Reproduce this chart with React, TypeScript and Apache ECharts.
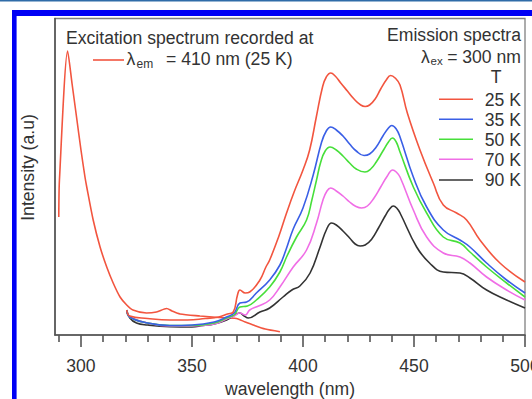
import React, { useEffect, useRef } from 'react';
import * as echarts from 'echarts';

// ---- data (wavelength in nm, intensity in arbitrary units) ----
const exWl = [290, 290.3, 294, 296, 298, 300, 301.8, 302.6, 305.5, 308.6, 311.6, 314.5, 317.6, 320.6, 323.4, 329.5, 334, 338.6, 341, 344.6, 353.6, 362, 370, 374, 377.6, 383, 389.6];
const exInt = [118, 155, 284, 251, 218, 185, 158, 148, 115, 88, 68, 52, 38, 30, 25, 22, 23, 26.5, 24, 21, 19, 17.5, 16.5, 13, 10, 6, 3.3];

const k25Wl = [320.6, 322, 330, 340, 348, 356, 362, 366, 368.6, 370.5, 371.6, 374, 376, 380.6, 383.3, 385, 389, 392.6, 396, 400, 403, 406, 408.8, 410.5, 412.5, 414.5, 417, 420, 423, 426, 428, 430, 432.5, 435, 437.5, 439.5, 441.5, 443.7, 447, 452.7, 458.7, 463.2, 469.2, 473.7, 479.7, 488.7, 500];
const k25Int = [25, 19, 16.5, 15, 15, 16.5, 18, 21, 23, 40, 45, 42, 43, 55, 68, 75, 98, 122, 143, 165, 185, 218, 248, 258, 262, 259, 252, 244, 236, 230, 228.5, 230, 236, 246, 255, 259.5, 257, 250, 222, 185, 152, 130, 122, 115, 95, 72, 53];

const k35Wl = [320.6, 322, 330, 340, 350, 360, 365.6, 369, 371.6, 374.6, 379, 385, 389.6, 392.3, 395.6, 400, 404.6, 408.4, 410.5, 412.5, 415, 418, 421, 424, 427.5, 430, 433, 436, 438.5, 440, 442, 443.7, 449.7, 455.7, 463.2, 470.7, 475.2, 482.7, 491.7, 500];
const k35Int = [25, 18, 12, 9.5, 10, 13, 18, 22, 32, 33, 42, 55, 70, 85, 106, 127, 160, 193, 204, 208, 205, 199, 191, 184, 179.5, 181, 188, 199, 207, 209.5, 206, 198, 158, 128, 105, 95, 88, 72, 55, 42];

const k50Wl = [320.6, 322, 330, 340, 350, 360, 365.6, 369, 371.6, 375, 379, 385, 389.6, 393, 397.1, 401.6, 404, 406.1, 408, 410, 412.2, 415, 418, 421, 424, 427.9, 430.5, 433, 436, 438.5, 440.3, 442, 443.7, 449.7, 455.7, 463.2, 470.7, 475.2, 482.7, 491.7, 500];
const k50Int = [25, 18, 12, 9.5, 9.5, 12, 17, 20, 28, 29, 35, 48, 63, 80, 98, 115, 135, 155, 173, 184, 188, 185, 179, 172, 166, 163, 166, 173, 184, 193, 197, 193, 183, 148, 122, 98, 92, 83, 68, 52, 38];

const k70Wl = [320.6, 322, 330, 340, 350, 360, 365.6, 369, 371.6, 374, 376, 380, 385, 389.6, 395.6, 401.6, 406.1, 409, 410.8, 412.5, 415, 418, 421, 423.5, 426.4, 429, 432, 435, 438, 440.4, 442, 443.7, 449.7, 455.7, 463.2, 470.7, 475.2, 482.7, 491.7, 500];
const k70Int = [25, 18, 12, 9, 9, 11, 16, 19, 22, 20, 25, 29, 35, 48, 68, 85, 112, 135, 144, 147, 144, 139, 133, 129, 127, 129, 137, 148, 159, 165, 163, 158, 125, 98, 82, 78, 72, 58, 45, 35];

const k90Wl = [320.6, 322, 325, 330, 340, 350, 355, 360, 365.6, 368.6, 371.5, 373.5, 375.4, 380.6, 385, 391, 395, 398.6, 403.2, 407.7, 410.7, 412.9, 415, 418, 421, 423.5, 425.7, 428, 431, 434, 437, 439, 440.7, 442.2, 443.7, 451.2, 457, 463.2, 470.7, 475.2, 482.7, 491.7, 500];
const k90Int = [25, 17, 12, 10, 8.3, 8, 9.5, 11, 15, 19, 22, 19, 17, 23, 27, 38, 45, 49, 62, 88, 106, 112, 110, 104, 97, 91, 89, 90, 96, 107, 119, 126, 129, 127, 122, 88, 72, 63, 62, 57, 45, 35, 27];

const tempLabels = ['25 K', '35 K', '50 K', '70 K', '90 K'];
const majorTicks = [300, 350, 400, 450, 500];
const minorTicks = [290, 310, 320, 330, 340, 360, 370, 380, 390, 410, 420, 430, 440, 460, 470, 480, 490];

const X_MIN = 288.3;
const X_MAX = 500;
const Y_MAX = 316.5;

const FONT = '"Liberation Sans", Arial, Helvetica, sans-serif';
const FS = 17.6;
const TXT = '#333333';
const COLORS = ['#f2553f', '#3a5fe6', '#47df3a', '#f06ee6', '#333333'];

const zip = (a: number[], b: number[]) => a.map((v, i) => [v, b[i]]);

export default function App() {
  const ref = useRef<HTMLDivElement>(null);

  useEffect(() => {
    const chart = echarts.init(ref.current!, null, { renderer: 'svg' });

    const emission = [
      { name: tempLabels[0], d: zip(k25Wl, k25Int) },
      { name: tempLabels[1], d: zip(k35Wl, k35Int) },
      { name: tempLabels[2], d: zip(k50Wl, k50Int) },
      { name: tempLabels[3], d: zip(k70Wl, k70Int) },
      { name: tempLabels[4], d: zip(k90Wl, k90Int) },
    ];

    const lineSeries = (name: string, data: number[][], color: string, z: number, smooth: number) => ({
      name,
      type: 'line',
      data,
      xAxisIndex: 0,
      yAxisIndex: 0,
      showSymbol: false,
      symbol: 'none',
      smooth,
      lineStyle: { color, width: 1.6 },
      z,
      silent: true,
    });

    const series: any[] = [
      lineSeries('Excitation', zip(exWl, exInt), COLORS[0], 3, 0.25),
      ...emission.map((e, i) => lineSeries(e.name, e.d, COLORS[i], 3 + (5 - i), 0.45)).reverse(),
    ];

    const textStyle = (extra: any) => ({ fontFamily: FONT, fontSize: FS, fill: TXT, ...extra });

    const legendY = [99.3, 119.3, 139.3, 159.3, 180];
    const graphic: any[] = [
      // page frame
      { type: 'rect', shape: { x: 0, y: 0, width: 532, height: 1.6 }, style: { fill: '#2f6ca8' }, silent: true },
      { type: 'rect', shape: { x: 12, y: 10, width: 520, height: 6 }, style: { fill: '#0000f5' }, silent: true },
      { type: 'rect', shape: { x: 12, y: 10, width: 4.6, height: 389 }, style: { fill: '#0000f5' }, silent: true },
      // y axis name
      { type: 'text', x: 28, y: 167.5, rotation: Math.PI / 2, style: textStyle({ text: 'Intensity (a.u)', align: 'center', verticalAlign: 'middle' }) },
      // excitation legend
      { type: 'text', x: 66, y: 37.8, style: textStyle({ text: 'Excitation spectrum recorded at', align: 'left', verticalAlign: 'middle' }) },
      { type: 'line', shape: { x1: 93, y1: 60, x2: 124, y2: 60 }, style: { stroke: COLORS[0], lineWidth: 1.6 } },
      { type: 'text', x: 126.5, y: 59.1, style: textStyle({ text: 'λ', align: 'left', verticalAlign: 'middle' }) },
      { type: 'text', x: 136.5, y: 64.3, style: textStyle({ text: 'em', fontSize: 12, align: 'left', verticalAlign: 'middle' }) },
      { type: 'text', x: 166, y: 59.1, style: textStyle({ text: '= 410 nm (25 K)', align: 'left', verticalAlign: 'middle' }) },
      // emission legend
      { type: 'text', x: 521, y: 35.2, style: textStyle({ text: 'Emission spectra', align: 'right', verticalAlign: 'middle' }) },
      { type: 'text', x: 421, y: 57.4, style: textStyle({ text: 'λ', align: 'left', verticalAlign: 'middle' }) },
      { type: 'text', x: 430.5, y: 61, style: textStyle({ text: 'ex', fontSize: 11.5, align: 'left', verticalAlign: 'middle' }) },
      { type: 'text', x: 521, y: 57.4, style: textStyle({ text: '= 300 nm', align: 'right', verticalAlign: 'middle' }) },
      { type: 'text', x: 496, y: 77.4, style: textStyle({ text: 'T', align: 'center', verticalAlign: 'middle' }) },
      ...tempLabels.flatMap((t, i) => [
        { type: 'line', shape: { x1: 439, y1: legendY[i], x2: 473, y2: legendY[i] }, style: { stroke: COLORS[i], lineWidth: 1.6 } },
        { type: 'text', x: 521, y: legendY[i] + 0.2, style: textStyle({ text: t, align: 'right', verticalAlign: 'middle' }) },
      ]),
    ];

    const axisLineStyle = { color: '#555555', width: 1.6 };

    chart.setOption({
      animation: false,
      backgroundColor: '#ffffff',
      grid: {
        left: 55,
        right: 7,
        top: 18.5,
        bottom: 64,
        outerBoundsMode: 'none',
        containLabel: false,
        show: true,
        borderColor: '#808080',
        borderWidth: 1.3,
        backgroundColor: 'transparent',
      },
      xAxis: [
        {
          type: 'value',
          min: X_MIN,
          max: X_MAX,
          position: 'bottom',
          axisLine: { show: true, onZero: false, lineStyle: axisLineStyle },
          axisTick: { show: true, customValues: majorTicks, length: 12, lineStyle: axisLineStyle },
          axisLabel: { show: true, customValues: majorTicks, margin: 22, fontSize: FS, color: TXT, fontFamily: FONT },
          splitLine: { show: false },
          name: 'wavelength (nm)',
          nameLocation: 'middle',
          nameGap: 44,
          nameTextStyle: { fontSize: FS, color: TXT, fontFamily: FONT },
        },
        {
          type: 'value',
          min: X_MIN,
          max: X_MAX,
          position: 'bottom',
          axisLine: { show: false },
          axisTick: { show: true, customValues: minorTicks, length: 7, lineStyle: axisLineStyle },
          axisLabel: { show: false },
          splitLine: { show: false },
        },
      ],
      yAxis: {
        type: 'value',
        min: 0,
        max: Y_MAX,
        axisLine: { show: true, onZero: false, lineStyle: axisLineStyle },
        axisTick: { show: false },
        axisLabel: { show: false },
        splitLine: { show: false },
      },
      series,
      graphic,
    });

    return () => chart.dispose();
  }, []);

  return (
    <div
      ref={ref}
      style={{ position: 'fixed', left: 0, top: 0, width: 532, height: 399, background: '#fff' }}
    />
  );
}
